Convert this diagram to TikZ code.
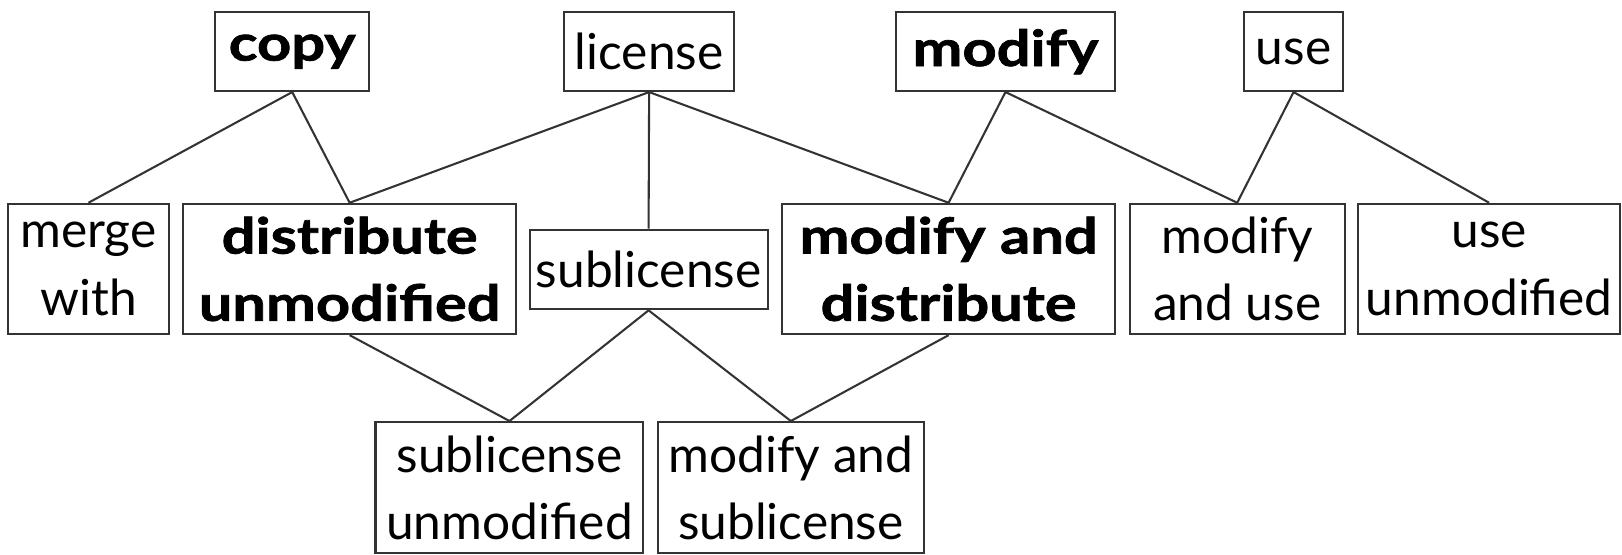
\documentclass[tikz,border=0pt]{standalone}
\usepackage{fontspec}
\setmainfont{Lato}[BoldFeatures={FakeStretch=1.2,FakeBold=1.5}]
\begin{document}
\begin{tikzpicture}[x=1pt,y=-1pt,
  box/.style={draw=black!80, line width=2pt, inner sep=0pt, align=center,
    font=\fontsize{48}{65}\selectfont},
  one/.style={box, minimum height=76pt},
  two/.style={box, minimum height=126pt},
  strong/.style={font=\fontsize{48}{65}\selectfont\bfseries},
  link/.style={draw=black!80, line width=2pt}]
\useasboundingbox (0,0) rectangle (1568,535.6);
% top row
\node[one, strong, minimum width=149pt] (copy) at (282.5,50) {copy};
\node[one, minimum width=165pt] (license) at (627.5,50) {license};
\node[one, strong, minimum width=212pt] (modify) at (972,50) {modify};
\node[one, minimum width=95pt] (use) at (1250.5,50) {use};
% middle row
\node[two, minimum width=155pt] (merge) at (85.5,260) {merge\\with};
\node[two, strong, minimum width=322pt] (distu) at (338,260) {distribute\\unmodified};
\node[one, minimum width=230pt, minimum height=77pt] (sublic) at (627,260.5) {sublicense};
\node[two, strong, minimum width=322pt] (moddist) at (917,260) {modify and\\distribute};
\node[two, minimum width=208pt] (moduse) at (1196,260) {modify\\and use};
\node[two, minimum width=253pt] (useunm) at (1439.5,260) {use\\unmodified};
% bottom row
\node[two, minimum width=259pt, minimum height=127pt] (subunm) at (492.5,471.5) {sublicense\\unmodified};
\node[two, minimum width=257pt, minimum height=127pt] (modsub) at (764.5,471.5) {modify and\\sublicense};
% connectors
\draw[link] (copy.south) -- (merge.north);
\draw[link] (copy.south) -- (distu.north);
\draw[link] (license.south) -- (distu.north);
\draw[link] (license.south) -- (sublic.north);
\draw[link] (license.south) -- (moddist.north);
\draw[link] (modify.south) -- (moddist.north);
\draw[link] (modify.south) -- (moduse.north);
\draw[link] (use.south) -- (moduse.north);
\draw[link] (use.south) -- (useunm.north);
\draw[link] (distu.south) -- (subunm.north);
\draw[link] (sublic.south) -- (subunm.north);
\draw[link] (sublic.south) -- (modsub.north);
\draw[link] (moddist.south) -- (modsub.north);
\end{tikzpicture}
\end{document}
